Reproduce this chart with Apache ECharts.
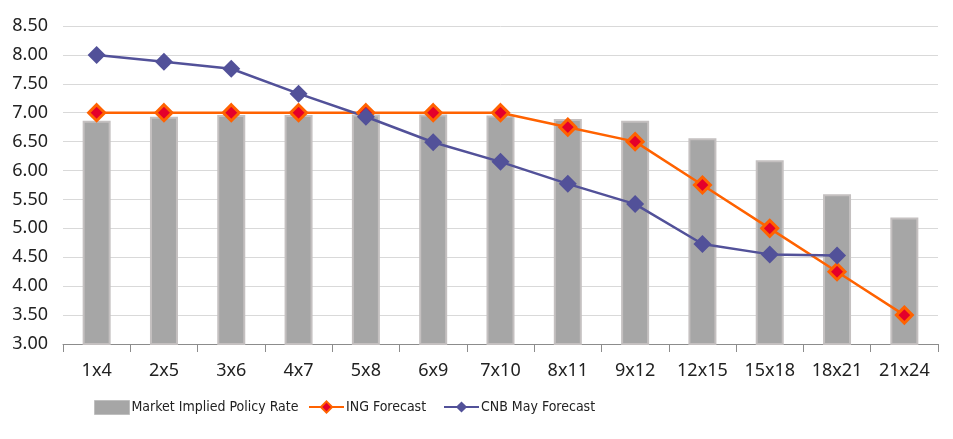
<!DOCTYPE html>
<html><head><meta charset="utf-8">
<script src="https://cdn.jsdelivr.net/npm/echarts@6/dist/echarts.min.js"></script>
<style>html,body{margin:0;padding:0;background:#fff}#c{width:953px;height:439px}</style>
</head><body><div id="c"></div>
<script>
const categories = ['1x4','2x5','3x6','4x7','5x8','6x9','7x10','8x11','9x12','12x15','15x18','18x21','21x24'];
const marketImplied = [6.86,6.93,6.96,6.96,6.97,6.97,6.95,6.89,6.86,6.56,6.18,5.59,5.19];
const ingForecast = [7.00,7.00,7.00,7.00,7.00,7.00,7.00,6.75,6.50,5.75,5.00,4.25,3.50];
const cnbForecast = [8.00,7.88,7.76,7.33,6.93,6.49,6.15,5.77,5.42,4.73,4.55,4.53,null];
const font = '"Noto Sans", sans-serif';
const legendFont = '"Liberation Sans Narrow", "DejaVu Sans Condensed", Lato, sans-serif';
const legendText = {fontFamily:legendFont,fontSize:14,color:'#222',padding:[0,0,0,-3]};
const chart = echarts.init(document.getElementById('c'));
chart.setOption({
  animation:false,
  grid:{left:63,right:15,top:26,bottom:95},
  legend:[
    {top:395,left:89,itemWidth:35,itemHeight:14,textStyle:legendText,
     data:[{name:'Market Implied Policy Rate',icon:'rect',itemStyle:{color:'#a6a6a6',borderColor:'#bfbfbf',borderWidth:1}}]},
    {top:395,left:303,itemWidth:35,itemHeight:14,textStyle:legendText,data:['ING Forecast']},
    {top:395,left:438,itemWidth:35,itemHeight:14,textStyle:legendText,data:['CNB May Forecast']}
  ],
  xAxis:{
    type:'category',data:categories,
    axisLine:{lineStyle:{color:'#8c8c8c'}},
    axisTick:{show:true,length:8,lineStyle:{color:'#8c8c8c'}},
    axisLabel:{fontFamily:font,fontSize:18,color:'#222',margin:18}
  },
  yAxis:{
    type:'value',min:3,max:8.5,interval:0.5,
    axisLine:{show:false},axisTick:{show:false},
    splitLine:{lineStyle:{color:'#d9d9d9'}},
    axisLabel:{fontFamily:font,fontSize:18,color:'#222',margin:15,formatter:v=>v.toFixed(2)}
  },
  series:[
    {name:'Market Implied Policy Rate',type:'bar',data:marketImplied,barWidth:28,
     itemStyle:{color:'#a6a6a6',borderColor:'#c4c0c0',borderWidth:2}},
    {name:'ING Forecast',type:'line',data:ingForecast,symbol:'diamond',symbolSize:16,
     lineStyle:{color:'#ff6200',width:2.5},
     itemStyle:{color:'#e4002b',borderColor:'#ff6200',borderWidth:3}},
    {name:'CNB May Forecast',type:'line',data:cnbForecast,symbol:'diamond',symbolSize:18,
     lineStyle:{color:'#525199',width:2.5},
     itemStyle:{color:'#525199',borderColor:'#525199',borderWidth:0}}
  ]
});
</script></body></html>
